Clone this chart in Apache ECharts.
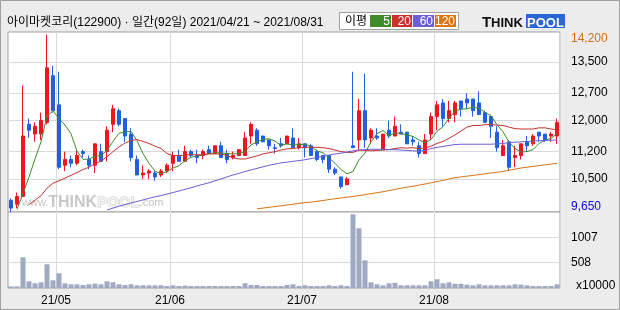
<!DOCTYPE html>
<html><head><meta charset="utf-8">
<script src="https://cdn.jsdelivr.net/npm/echarts@6/dist/echarts.min.js"></script>
<style>html,body{margin:0;padding:0;background:#ececec}#c{width:620px;height:310px}</style>
</head><body><div id="c"></div>
<script>
const dates = ['2021/04/21','2021/04/22','2021/04/23','2021/04/26','2021/04/27','2021/04/28','2021/04/29','2021/04/30',
'2021/05/03','2021/05/04','2021/05/06','2021/05/07','2021/05/10','2021/05/11','2021/05/12','2021/05/13','2021/05/14','2021/05/17','2021/05/18','2021/05/20','2021/05/21','2021/05/24','2021/05/25','2021/05/26','2021/05/27','2021/05/28','2021/05/31',
'2021/06/01','2021/06/02','2021/06/03','2021/06/04','2021/06/07','2021/06/08','2021/06/09','2021/06/10','2021/06/11','2021/06/14','2021/06/15','2021/06/16','2021/06/17','2021/06/18','2021/06/21','2021/06/22','2021/06/23','2021/06/24','2021/06/25','2021/06/28','2021/06/29','2021/06/30',
'2021/07/01','2021/07/02','2021/07/05','2021/07/06','2021/07/07','2021/07/08','2021/07/09','2021/07/12','2021/07/13','2021/07/14','2021/07/15','2021/07/16','2021/07/19','2021/07/20','2021/07/21','2021/07/22','2021/07/23','2021/07/26','2021/07/27','2021/07/28','2021/07/29','2021/07/30',
'2021/08/02','2021/08/03','2021/08/04','2021/08/05','2021/08/06','2021/08/09','2021/08/10','2021/08/11','2021/08/12','2021/08/13','2021/08/17','2021/08/18','2021/08/19','2021/08/20','2021/08/23','2021/08/24','2021/08/25','2021/08/26','2021/08/27','2021/08/30','2021/08/31'];

const opens = [9950,9850,10050,11900,11650,11650,11950,13150,12400,10850,
11000,10900,11200,11000,10850,11200,11200,11900,12250,12050,
11650,11000,10600,10650,10650,10600,10700,10900,11100,10950,
11200,11100,11100,11250,11150,11350,11150,11050,11100,11100,
11600,11750,11600,11500,11300,11400,11400,11550,11300,11400,
11350,11200,11100,11100,10750,10550,10350,11350,11500,12250,
11550,11600,11250,11750,11600,11700,11700,11500,11350,11150,
11650,12100,12450,12050,12150,12500,12550,12550,12450,12200,
12100,11700,11100,11450,11050,11100,11450,11400,11700,11650,
11600,11600];
const closes = [9750,10050,11600,11750,11850,12000,13350,12250,10800,11000,
10900,11100,11150,10850,11400,10950,11750,12300,11900,11600,
11050,10600,10650,10700,10550,10700,10850,11100,10950,11200,
11100,11050,11200,11150,11350,11050,11000,11100,11250,11550,
11900,11400,11450,11350,11280,11350,11600,11300,11400,11300,
11100,11000,11000,10750,10650,10300,10500,11300,12250,11500,
11750,11550,11650,11600,11850,11650,11400,11450,11150,11500,
12100,12400,12050,12250,12450,12300,12450,12250,12150,11950,
11850,11300,11350,10800,11100,11400,11350,11600,11600,11500,
11650,11950];
const lows = [9650,9750,10050,11550,11450,11500,11900,12200,10750,10700,
10800,10850,11050,10750,10650,10950,10950,11700,11850,11450,
10950,10600,10500,10500,10450,10550,10650,10700,10950,10950,
11050,10900,11000,11150,11150,11050,10900,11000,11100,11100,
11400,11350,11450,11250,11150,11300,11400,11300,11250,11050,
11100,10950,10900,10650,10600,10250,10350,11300,11250,11300,
11400,11500,11250,11550,11600,11650,11400,11350,11050,11150,
11500,11750,11850,11950,11950,12100,12300,12100,12150,11950,
11550,11200,11100,10700,10800,11000,11200,11350,11450,11450,
11450,11400];
const highs = [10000,10150,12900,12050,11950,12200,14200,13400,13250,11200,
11100,11250,11250,11100,11400,11400,11850,12400,12300,12050,
11800,11100,10850,10750,10700,10750,10900,11200,11250,11350,
11250,11250,11250,11350,11350,11450,11250,11200,11250,11700,
11950,11800,11600,11500,11400,11550,11600,11800,11550,11400,
11400,11250,11100,11100,10800,10550,10550,13250,12550,13200,
11800,11800,11650,12000,12100,11900,11700,11600,11450,11650,
12200,12500,12550,12500,12500,12500,12700,12550,12750,12250,
12150,11850,11500,11500,11350,11400,11600,11650,11700,11650,
11700,12050];
// volume in units of 10,000 shares
const volumes = [33,33,614,134,94,114,474,154,294,94,
74,74,60,74,87,74,134,114,74,60,
74,54,54,54,54,54,40,54,40,47,
40,40,40,40,40,40,40,40,40,94,
60,60,40,40,40,40,60,74,40,54,
40,40,40,54,40,54,40,1474,1194,554,
114,74,54,94,104,54,54,54,54,54,
134,174,94,114,84,84,67,54,74,54,
54,54,54,54,74,67,54,40,40,40,
40,74];
const ma5 = [null,9720,10120,10550,11010,11450,12110,12240,12050,11880,
11660,11210,11000,11010,11080,11100,11230,11460,11670,11700,
11720,11480,11150,10900,10700,10630,10690,10780,10840,10970,
11050,11090,11110,11150,11170,11170,11150,11140,11150,11200,
11370,11450,11510,11530,11470,11360,11400,11370,11380,11390,
11340,11220,11170,11040,10900,10740,10630,10690,10990,11160,
11450,11660,11740,11610,11680,11660,11630,11590,11500,11430,
11510,11720,11840,12050,12240,12290,12300,12340,12310,12210,
12120,11890,11710,11440,11280,11190,11200,11250,11410,11490,
11540,11660];
const ma20 = [null,null,null,9840,9950,10070,10260,10390,10450,10520,
10590,10660,10740,10800,10890,10960,11070,11200,11320,11420,
11480,11510,11460,11410,11340,11280,11150,11100,11100,11110,
11120,11120,11120,11140,11140,11140,11100,11040,11010,11010,
11050,11090,11140,11170,11200,11240,11270,11280,11300,11310,
11310,11310,11300,11280,11240,11200,11180,11180,11240,11230,
11220,11230,11240,11250,11280,11300,11290,11300,11280,11290,
11340,11410,11460,11540,11630,11730,11830,11870,11870,11890,
11900,11880,11870,11830,11790,11780,11780,11780,11810,11810,
11780,11760];
const ma60 = [null,null,null,null,null,null,null,null,null,null,
null,null,null,null,null,null,9700,9750,9800,9840,
9880,9920,9960,10000,10040,10070,10110,10150,10190,10230,
10270,10320,10360,10400,10450,10500,10550,10600,10640,10690,
10730,10770,10810,10850,10880,10910,10930,10950,10970,10990,
11020,11050,11080,11110,11140,11160,11190,11220,11240,11250,
11260,11260,11260,11250,11250,11240,11230,11220,11210,11230,
11280,11310,11330,11360,11380,11390,11390,11390,11390,11390,
11390,11400,11410,11430,11440,11450,11460,11470,11480,11490,
11490,11500];
const ma120 = [null,null,null,null,null,null,null,null,null,null,
null,null,null,null,null,null,null,null,null,null,
null,null,null,null,null,null,null,null,null,null,
null,null,null,null,null,null,null,null,null,null,
null,9730,9750,9770,9790,9810,9830,9850,9870,9890,
9905,9925,9945,9970,9990,10010,10030,10050,10070,10095,
10120,10145,10170,10200,10230,10260,10290,10310,10340,10370,
10400,10430,10460,10500,10530,10550,10570,10590,10610,10630,
10650,10670,10690,10720,10750,10780,10800,10820,10840,10860,
10880,10900];
const priceTicks = [10500, 11200, 12000, 12700, 13500];
const priceLow = 9650, priceHigh = 14200;
const volumeTicks = [508, 1007];
const maPeriods = ['5', '20', '60', '120'];
const maColors = ['#3f8c2a', '#c8322d', '#6a5fd8', '#dc7314'];
const title = '아이마켓코리(122900) · 일간(92일) 2021/04/21 ~ 2021/08/31';

const FONT = '"Liberation Sans", "Noto Sans CJK KR", sans-serif';
const isMonthStart = (i) => i > 0 && dates[i].slice(5, 7) !== dates[i - 1].slice(5, 7);
const gridLine = { color: '#d9d9d9', width: 1 };
const fmt = (v) => Number(v).toLocaleString('en-US');

const chart = echarts.init(document.getElementById('c'), null, { renderer: 'canvas' });
const legendGfx = [];
const boxX = [370, 392, 413, 435], boxW = [21, 20, 21, 21];
maPeriods.forEach((p, k) => {
  legendGfx.push({ type: 'rect', shape: { x: boxX[k], y: 15, width: boxW[k], height: 12 }, style: { fill: maColors[k] } });
  legendGfx.push({ type: 'text', x: boxX[k] + boxW[k] - 1, y: 21.5, style: { text: p, fill: '#fff', font: '12px ' + FONT, align: 'right', verticalAlign: 'middle' } });
});

chart.setOption({
  animation: false,
  backgroundColor: '#ececec',
  grid: [
    { left: 8, top: 32, width: 552, height: 180, show: true, backgroundColor: '#fff', borderColor: '#a0a0a0', borderWidth: 1, containLabel: false, outerBoundsMode: 'none' },
    { left: 8, top: 212, width: 552, height: 76, show: true, backgroundColor: '#fff', borderColor: '#a0a0a0', borderWidth: 1, containLabel: false, outerBoundsMode: 'none' }
  ],
  xAxis: [
    { type: 'category', gridIndex: 0, data: dates, boundaryGap: true,
      axisLine: { show: false }, axisTick: { show: false }, axisLabel: { show: false },
      splitLine: { show: true, interval: isMonthStart, lineStyle: gridLine } },
    { type: 'category', gridIndex: 1, data: dates, boundaryGap: true,
      axisLine: { show: false }, axisTick: { show: false },
      axisLabel: { show: true, interval: isMonthStart, margin: 7, color: '#000', fontSize: 12, fontFamily: FONT,
        padding: [0, 6, 0, 0], formatter: (v) => v.slice(2, 4) + '/' + v.slice(5, 7) },
      splitLine: { show: true, interval: isMonthStart, lineStyle: gridLine } }
  ],
  yAxis: [
    { type: 'value', gridIndex: 0, position: 'right', min: 9650, max: 14270, scale: true,
      axisLine: { show: false }, axisTick: { show: false, customValues: priceTicks },
      splitLine: { show: true, lineStyle: gridLine },
      axisLabel: { customValues: [priceLow].concat(priceTicks, [priceHigh]), margin: 11, align: 'left',
        fontSize: 12, fontFamily: FONT, color: '#000',
        formatter: (v) => v === priceHigh ? '{hi|' + fmt(v) + '}' : v === priceLow ? '{lo|' + fmt(v) + '}' : '{n|' + fmt(v) + '}',
        rich: {
          n: { color: '#000', fontSize: 12, fontFamily: FONT },
          hi: { color: '#d26e14', fontSize: 12, fontFamily: FONT, padding: [7, 0, 0, 0] },
          lo: { color: '#0a0ae0', fontSize: 12, fontFamily: FONT, padding: [0, 0, 11, 0] }
        } } },
    { type: 'value', gridIndex: 1, position: 'right', min: 0, max: 1520,
      axisLine: { show: false }, axisTick: { show: false, customValues: volumeTicks },
      splitLine: { show: true, lineStyle: gridLine },
      axisLabel: { customValues: volumeTicks, margin: 11, align: 'left', fontSize: 12, fontFamily: FONT, color: '#000',
        formatter: (v) => String(v) } }
  ],
  series: [
    { type: 'candlestick', xAxisIndex: 0, yAxisIndex: 0, barWidth: 4, z: 2,
      data: dates.map((d, i) => [opens[i], closes[i], lows[i], highs[i]]),
      itemStyle: { color: '#f0141e', color0: '#1f5fe0', borderColor: '#f0141e', borderColor0: '#1f5fe0', borderWidth: 1 } },
    { type: 'line', name: 'MA5', data: ma5, xAxisIndex: 0, yAxisIndex: 0, symbol: 'none', z: 3, lineStyle: { color: maColors[0], width: 1 } },
    { type: 'line', name: 'MA20', data: ma20, xAxisIndex: 0, yAxisIndex: 0, symbol: 'none', z: 3, lineStyle: { color: maColors[1], width: 1 } },
    { type: 'line', name: 'MA60', data: ma60, xAxisIndex: 0, yAxisIndex: 0, symbol: 'none', z: 3, lineStyle: { color: maColors[2], width: 1 } },
    { type: 'line', name: 'MA120', data: ma120, xAxisIndex: 0, yAxisIndex: 0, symbol: 'none', z: 3, lineStyle: { color: maColors[3], width: 1 } },
    { type: 'bar', xAxisIndex: 1, yAxisIndex: 1, data: volumes, barWidth: 5, itemStyle: { color: '#a0a9c2' } }
  ],
  graphic: [
    { type: 'text', x: 22, y: 211, z: 1, silent: true,
      style: { text: '{a|www.}{b|THINK}{c|POOL}{a|.com}', verticalAlign: 'bottom',
        rich: {
          a: { fontSize: 11, fontFamily: FONT, fill: '#c4c4c4' },
          b: { fontSize: 16, fontWeight: 'bold', fontFamily: FONT, fill: '#c8c8c8' },
          c: { fontSize: 15, fontWeight: 'bold', fontFamily: FONT, fill: '#f2f2f2', stroke: '#c8c8c8', lineWidth: 1 }
        } } },
    { type: 'text', x: 7, y: 22.5, style: { text: title, fill: '#000', font: '12px ' + FONT, verticalAlign: 'middle' } },
    { type: 'rect', shape: { x: 339.5, y: 12.5, width: 119, height: 17 }, style: { fill: '#fff', stroke: '#a0a0a0', lineWidth: 1 } },
    { type: 'text', x: 345, y: 21.5, style: { text: '이평', fill: '#000', font: '12px ' + FONT, verticalAlign: 'middle' } },
    ...legendGfx,
    { type: 'text', x: 482, y: 30.5, style: { text: 'T', fill: '#111', font: 'bold 15px ' + FONT, verticalAlign: 'bottom' } },
    { type: 'text', x: 491, y: 30.3, style: { text: 'HINK', fill: '#111', font: 'bold 13px ' + FONT, verticalAlign: 'bottom' } },
    { type: 'rect', shape: { x: 526, y: 14, width: 39, height: 14 }, style: { fill: '#2a66d6' } },
    { type: 'text', x: 545.5, y: 30.3, style: { text: 'POOL', fill: '#fff', font: 'bold 13px ' + FONT, align: 'center', verticalAlign: 'bottom' } },
    { type: 'text', x: 576, y: 286, style: { text: 'x10000', fill: '#000', font: '12px ' + FONT, verticalAlign: 'middle' } },
    { type: 'rect', z: 100, shape: { x: 0.5, y: 0.5, width: 619, height: 309 }, style: { fill: 'none', stroke: '#a0a0a0', lineWidth: 1 } }
  ]
});
</script>
</body></html>
